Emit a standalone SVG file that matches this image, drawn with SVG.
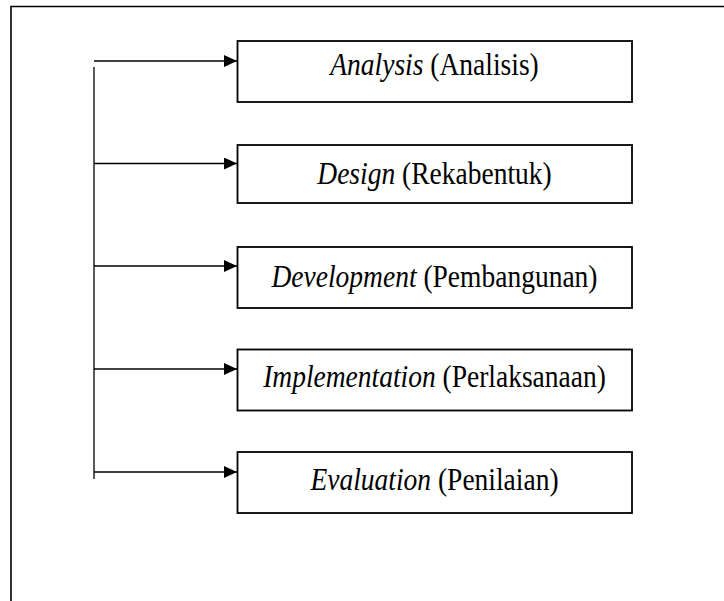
<svg xmlns="http://www.w3.org/2000/svg" width="724" height="601" viewBox="0 0 724 601">
<style>
.frame{fill:none;stroke:#000;stroke-width:1.6}
.box{fill:#fff;stroke:#000;stroke-width:1.8}
.conn{fill:none;stroke:#000;stroke-width:1.3}
.lbl{font-family:"Liberation Serif","Times New Roman",serif;font-size:27.5px;fill:#000;text-anchor:middle}
.it{font-style:italic}
</style>
<defs>
<marker id="ah" markerUnits="userSpaceOnUse" markerWidth="14" markerHeight="12" refX="13" refY="6" orient="auto">
<path d="M0,0 L13,6 L0,12 Z" fill="#000"/>
</marker>
</defs>
<rect width="724" height="601" fill="#fff"/>
<path class="frame" d="M11,601 V6.5 H724"/>
<g id="connectors">
<line class="conn" x1="94" y1="67" x2="94" y2="479"/>
<line class="conn" x1="94" y1="61" x2="237" y2="61" marker-end="url(#ah)"/>
<line class="conn" x1="94" y1="163.5" x2="237" y2="163.5" marker-end="url(#ah)"/>
<line class="conn" x1="94" y1="266" x2="237" y2="266" marker-end="url(#ah)"/>
<line class="conn" x1="94" y1="369" x2="237" y2="369" marker-end="url(#ah)"/>
<line class="conn" x1="94" y1="472" x2="237" y2="472" marker-end="url(#ah)"/>
</g>
<g id="analysis">
<rect class="box" x="237.5" y="41" width="394.5" height="61"/>
<text class="lbl" transform="translate(434.5,75) scale(1,1.15)"><tspan class="it">Analysis</tspan> (Analisis)</text>
</g>
<g id="design">
<rect class="box" x="237.5" y="145" width="394.5" height="58"/>
<text class="lbl" transform="translate(434.5,184) scale(1,1.15)"><tspan class="it">Design</tspan> (Rekabentuk)</text>
</g>
<g id="development">
<rect class="box" x="237.5" y="247" width="394.5" height="61"/>
<text class="lbl" transform="translate(434.5,287) scale(1,1.15)"><tspan class="it">Development</tspan> (Pembangunan)</text>
</g>
<g id="implementation">
<rect class="box" x="237.5" y="349.5" width="394.5" height="61"/>
<text class="lbl" transform="translate(434.5,387) scale(1,1.15)"><tspan class="it">Implementation</tspan> (Perlaksanaan)</text>
</g>
<g id="evaluation">
<rect class="box" x="237.5" y="452" width="394.5" height="61"/>
<text class="lbl" transform="translate(434.5,490) scale(1,1.15)"><tspan class="it">Evaluation</tspan> (Penilaian)</text>
</g>
</svg>
